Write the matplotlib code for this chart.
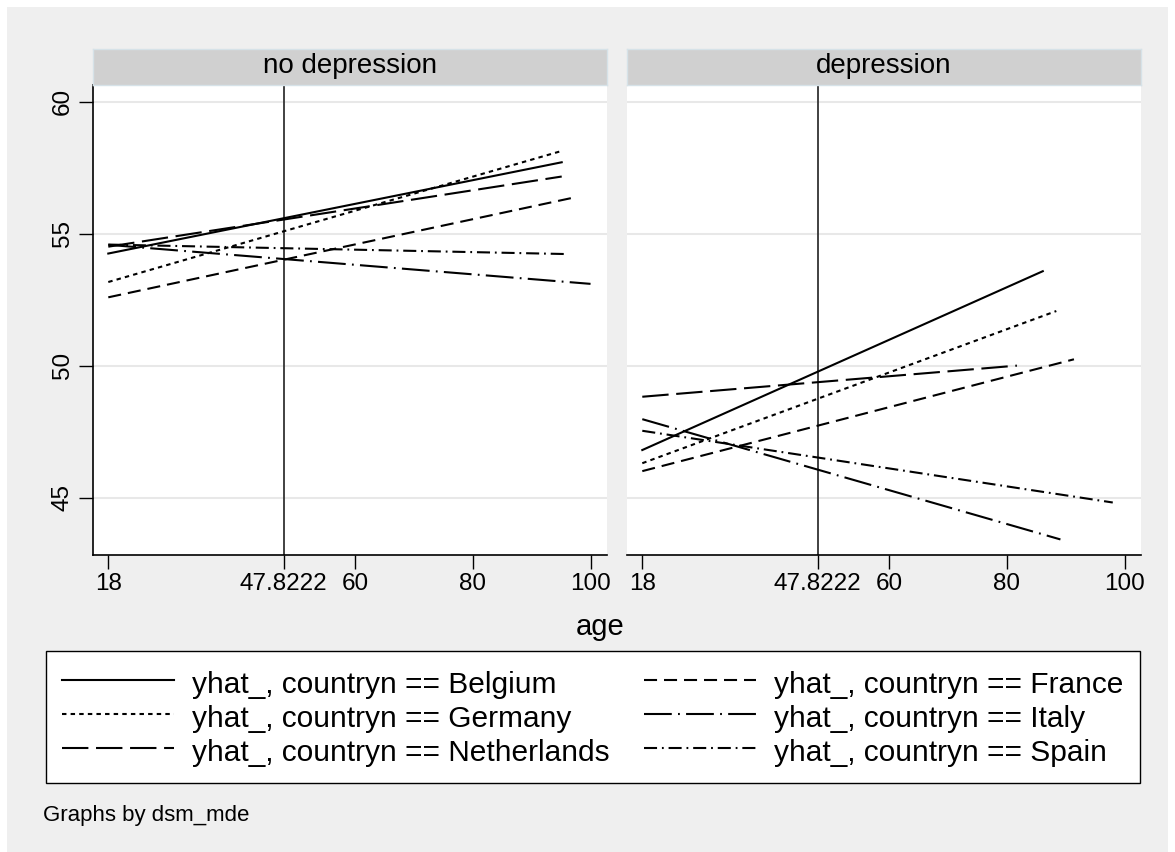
import matplotlib
matplotlib.use("Agg")
import matplotlib.pyplot as plt
from matplotlib.patches import Rectangle
from matplotlib.lines import Line2D

plt.rcParams['font.family'] = ['Liberation Sans', 'DejaVu Sans']
plt.rcParams['lines.scale_dashes'] = False

W, H = 1175, 852

countries = ['Belgium', 'France', 'Germany', 'Italy', 'Netherlands', 'Spain']
panels = ['no depression', 'depression']
mean_age = 47.8222

# fitted yhat_ per country: value at youngest and oldest age in each panel
age_lo = [18, 18, 18, 18, 18, 18]
age_hi_nodep = [95.1, 97.1, 95.1, 100.0, 95.1, 96.0]
yhat_lo_nodep = [54.25, 52.59, 53.17, 54.58, 54.51, 54.59]
yhat_hi_nodep = [57.71, 56.37, 58.14, 53.10, 57.17, 54.23]
age_hi_dep = [86.1, 91.4, 88.4, 89.1, 81.7, 98.0]
yhat_lo_dep = [46.80, 46.00, 46.30, 47.97, 48.82, 47.53]
yhat_hi_dep = [53.58, 50.24, 52.07, 43.41, 50.00, 44.81]

xticks = [18, mean_age, 60, 80, 100]
xticklabels = ['18', '47.8222', '60', '80', '100']
yticks = [45, 50, 55, 60]

# stata-ish line patterns, in points
styles = {
    'Belgium': '-',
    'France': (0, (9.4, 5)),
    'Germany': (0, (3.2, 3)),
    'Italy': (0, (20, 4.5, 1.3, 4.5)),
    'Netherlands': (0, (19, 5.5)),
    'Spain': (0, (9.4, 3.5, 1.3, 3.5)),
}
lw = 1.5


def px(x0, y0, x1, y1):
    return [x0 / W, 1 - y1 / H, (x1 - x0) / W, (y1 - y0) / H]


fig = plt.figure(figsize=(W / 100, H / 100), dpi=100, facecolor='white')
fig.patches.append(Rectangle((7 / W, 0), 1161 / W, 1 - 7 / H, transform=fig.transFigure,
                             facecolor='#efefef', edgecolor='none', zorder=-10))

panel_x = [(93, 607), (627, 1141)]
data = [(age_hi_nodep, yhat_lo_nodep, yhat_hi_nodep),
        (age_hi_dep, yhat_lo_dep, yhat_hi_dep)]

for i, (x0, x1) in enumerate(panel_x):
    ax = fig.add_axes(px(x0, 85, x1, 555))
    ax.set_facecolor('white')
    ax.set_xlim(15.4, 102.8)
    ax.set_ylim(42.82, 60.64)
    for yv in yticks:
        ax.axhline(yv, color='#e8e8e8', lw=1.5, zorder=0)
    ax.axvline(mean_age, color='#333333', lw=1.3, zorder=1)
    hi, lo_y, hi_y = data[i]
    for j, c in enumerate(countries):
        ax.plot([age_lo[j], hi[j]], [lo_y[j], hi_y[j]], color='black', lw=lw,
                linestyle=styles[c], zorder=3)
    for s in ['top', 'right']:
        ax.spines[s].set_visible(False)
    ax.spines['bottom'].set_linewidth(1.2)
    ax.set_xticks(xticks)
    ax.set_xticklabels(xticklabels)
    ax.tick_params(axis='x', length=10, width=1, labelsize=17.5, pad=3)
    ax.set_yticks(yticks)
    if i == 0:
        ax.spines['left'].set_linewidth(1.2)
        ax.tick_params(axis='y', length=10, width=1, labelsize=17.5, pad=4)
        for lab in ax.get_yticklabels():
            lab.set_rotation(90)
            lab.set_va('center')
    else:
        ax.spines['left'].set_visible(False)
        ax.tick_params(axis='y', length=0, labelleft=False)

    hdr = fig.add_axes(px(x0, 49, x1, 85))
    hdr.set_facecolor('#d0d0d0')
    hdr.set_xticks([])
    hdr.set_yticks([])
    for s in hdr.spines.values():
        s.set_color('#d6e2e8')
        s.set_linewidth(1)
    hdr.text(0.5, 0.52, panels[i], ha='center', va='center', fontsize=20,
             transform=hdr.transAxes)

fig.text(600 / W, 1 - 627 / H, 'age', ha='center', va='center', fontsize=21)

order = ['Belgium', 'Germany', 'Netherlands', 'France', 'Italy', 'Spain']
handles = [Line2D([], [], color='black', lw=lw, linestyle=styles[c]) for c in order]
labels = ['yhat_, countryn == ' + c for c in order]
leg = fig.legend(handles, labels, ncol=2, mode='expand', loc='upper left',
                 bbox_to_anchor=(46 / W, 1 - 651 / H, (1140 - 46) / W, 0.0),
                 bbox_transform=fig.transFigure, fontsize=21.5, frameon=True,
                 fancybox=False, edgecolor='black', facecolor='white', framealpha=1,
                 handlelength=3.75, handleheight=1.18, handletextpad=0.6,
                 labelspacing=0.1, borderpad=0.55, borderaxespad=0)
leg.get_frame().set_linewidth(1)

fig.text(43 / W, 1 - 815 / H, 'Graphs by dsm_mde', ha='left', va='center', fontsize=16)

fig.savefig('out.png', dpi=100, facecolor='white')
